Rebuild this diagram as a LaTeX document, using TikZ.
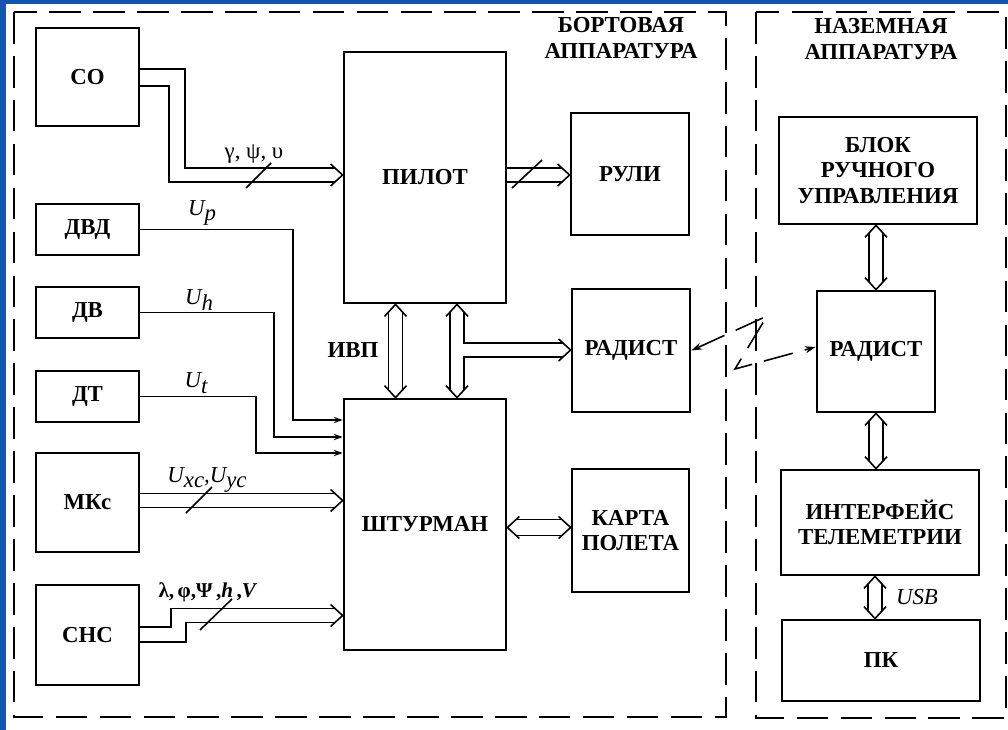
\documentclass[tikz,border=0pt]{standalone}
\usepackage{fontspec}
\setmainfont{Liberation Serif}
\usetikzlibrary{arrows.meta,calc}
\definecolor{slideblue}{RGB}{18,86,176}
\newcommand{\sbs}[1]{\raisebox{-0.55ex}{#1}}
\newcommand{\chev}[2]{\draw[wire,shift={(#1)},rotate=#2] (-12,-11) -- (0,0) -- (-12,11);}

\begin{document}
\begin{tikzpicture}[x=0.02cm,y=-0.02cm,
  box/.style 2 args={draw, line width=1.6pt, align=center, inner sep=0pt,
    minimum width=#1*0.02cm, minimum height=#2*0.02cm,
    font=\bfseries\fontsize{13}{14.5}\selectfont},
  title/.style={align=center, inner sep=0pt, font=\bfseries\fontsize{13}{14.5}\selectfont},
  lbl/.style={inner sep=0pt, font=\fontsize{13}{14}\selectfont},
  wire/.style={line width=0.9pt, line join=miter},
  sig/.style={wire, -{Stealth[length=5pt,width=3.6pt]}},
  frame/.style={line width=1.1pt, dash pattern=on 18pt off 7pt},
  radio/.style={line width=0.9pt, dash pattern=on 17pt off 7pt,
    {Stealth[length=6pt,width=4pt]}-{Stealth[length=6pt,width=4pt]}}]
  \useasboundingbox (0,0) rectangle (1008,730);
  \fill[slideblue] (0,0) rectangle (1008,730);
  \fill[white] (6,4) rectangle (1008,730);

  % dashed frames
  \draw[frame] (14,12) rectangle (726,717);
  \draw[frame] (756,12) rectangle (1006,718);
  \node[title] (bort) at (621,38) {БОРТОВАЯ\\АППАРАТУРА};
  \node[title] (nazem) at (881,39) {НАЗЕМНАЯ\\АППАРАТУРА};

  % sensors
  \node[box={103}{98}] (so) at (87.5,77) {СО};
  \node[box={103}{51}] (dvd) at (87.5,229.5) {ДВД};
  \node[box={103}{51}] (dv) at (87.5,312.5) {ДВ};
  \node[box={103}{51}] (dt) at (87.5,396.5) {ДТ};
  \node[box={103}{99}] (mks) at (87.5,502.5) {МКс};
  \node[box={103}{100}] (snc) at (87.5,635) {СНС};

  % board units
  \node[box={162}{251}] (pilot) at (425,177.5) {ПИЛОТ};
  \node[box={162}{251}] (shturman) at (425,524.5) {ШТУРМАН};
  \node[box={118}{122}] (ruli) at (630,174) {РУЛИ};
  \node[box={118}{123}] (radist1) at (631,350.5) {РАДИСТ};
  \node[box={117}{123}] (karta) at (630.5,530.5) {КАРТА\\ПОЛЕТА};

  % ground units
  \node[box={198}{107}] (blok) at (878,170.5) {БЛОК\\РУЧНОГО\\УПРАВЛЕНИЯ};
  \node[box={118}{121}] (radist2) at (876,351.5) {РАДИСТ};
  \node[box={198}{105}] (interf) at (880,522.5) {ИНТЕРФЕЙС\\ТЕЛЕМЕТРИИ};
  \node[box={198}{81}] (pk) at (881,660.5) {ПК};

  % CO -> pilot
  \coordinate (pin) at (pilot.west |- 0,175);
  \draw[wire] (so.east |- 0,69) -| (185,168) -- ($(pin)+(-8,-7)$);
  \draw[wire] (so.east |- 0,86) -| (169,182) -- ($(pin)+(-8,7)$);
  \chev{pin}{0}
  \draw[wire] (246,188) -- (271,163);
  \node[lbl] (lso) at (254,154) {γ, ψ, υ};

  % single sensors -> shturman
  \draw[sig] (dvd.east) -| (293,420) -- (shturman.west |- 0,420);
  \draw[sig] (dv.east) -| (274,437) -- (shturman.west |- 0,437);
  \draw[sig] (dt.east) -| (256,453) -- (shturman.west |- 0,453);
  \node[lbl] (lp) at (202,213) {\itshape U\sbs{p}};
  \node[lbl] (lh) at (199,300) {\itshape U\sbs{h}};
  \node[lbl] (lt) at (196,383) {\itshape U\sbs{t}};

  % MKs -> shturman
  \coordinate (min) at (shturman.west |- 0,500.5);
  \draw[wire] (mks.east |- 0,493.5) -- ($(min)+(-8,-7)$);
  \draw[wire] (mks.east |- 0,507.5) -- ($(min)+(-8,7)$);
  \chev{min}{0}
  \draw[wire] (186,513) -- (212,487);
  \node[lbl] (lxy) at (207,480) {\itshape U\sbs{xc},U\sbs{yc}};

  % SNS -> shturman
  \coordinate (sin) at (shturman.west |- 0,615.5);
  \draw[wire] (snc.east |- 0,627) -| (171,608.5) -- ($(sin)+(-8,-7)$);
  \draw[wire] (snc.east |- 0,642) -| (186,622.5) -- ($(sin)+(-8,7)$);
  \chev{sin}{0}
  \draw[wire] (200,630) -- (232,599);
  \node[lbl] (lsns) at (208,592) {\bfseries\fontsize{12}{14}\selectfont λ,\,φ,Ψ\,,\textit{h}\,,\textit{V}};

  % pilot -> ruli
  \coordinate (rin) at (ruli.west |- 0,175);
  \draw[wire] (pilot.east |- 0,168) -- ($(rin)+(-8,-7)$);
  \draw[wire] (pilot.east |- 0,182) -- ($(rin)+(-8,7)$);
  \chev{rin}{0}
  \draw[wire] (512,188) -- (542,160);

  % pilot <-> shturman
  \coordinate (ivp1) at (395.5,0 |- pilot.south);
  \coordinate (ivp2) at (395.5,0 |- shturman.north);
  \draw[wire] ($(ivp1)+(-7,8)$) -- ($(ivp2)+(-7,-8)$);
  \draw[wire] ($(ivp1)+(7,8)$) -- ($(ivp2)+(7,-8)$);
  \chev{ivp1}{90}
  \chev{ivp2}{-90}
  \node[title] (livp) at (353,350) {ИВП};

  \coordinate (b1) at (457,0 |- pilot.south);
  \coordinate (b2) at (457,0 |- shturman.north);
  \coordinate (rdin) at (radist1.west |- 0,350);
  \draw[wire] ($(b1)+(-7,8)$) -- ($(b2)+(-7,-8)$);
  \draw[wire] ($(b1)+(7,8)$) |- ($(rdin)+(-8,-7)$);
  \draw[wire] ($(b2)+(7,-8)$) |- ($(rdin)+(-8,7)$);
  \chev{b1}{90}
  \chev{b2}{-90}
  \chev{rdin}{0}

  % shturman <-> karta
  \coordinate (k1) at (shturman.east |- 0,527.5);
  \coordinate (k2) at (karta.west |- 0,527.5);
  \draw[wire] ($(k1)+(9,-8)$) -- ($(k2)+(-9,-8)$);
  \draw[wire] ($(k1)+(9,8)$) -- ($(k2)+(-9,8)$);
  \chev{k1}{180}
  \chev{k2}{0}

  % radio link
  \draw[radio] (radist1.east) -- (767,316) -- (735,369) -- (radist2.west |- 0,347);

  % ground buses
  \coordinate (g1) at (radist2.north |- blok.south);
  \coordinate (g2) at (radist2.north);
  \coordinate (g3) at (radist2.south);
  \coordinate (g4) at (radist2.south |- interf.north);
  \coordinate (g5) at (875,0 |- interf.south);
  \coordinate (g6) at (875,0 |- pk.north);
  \foreach \a/\b in {g1/g2,g3/g4,g5/g6}{
    \draw[wire] ($(\a)+(-7,8)$) -- ($(\b)+(-7,-8)$);
    \draw[wire] ($(\a)+(7,8)$) -- ($(\b)+(7,-8)$);
    \chev{\a}{90}
    \chev{\b}{-90}
  }
  \node[lbl] (lusb) at (917,597) {\itshape USB};
\end{tikzpicture}
\end{document}
